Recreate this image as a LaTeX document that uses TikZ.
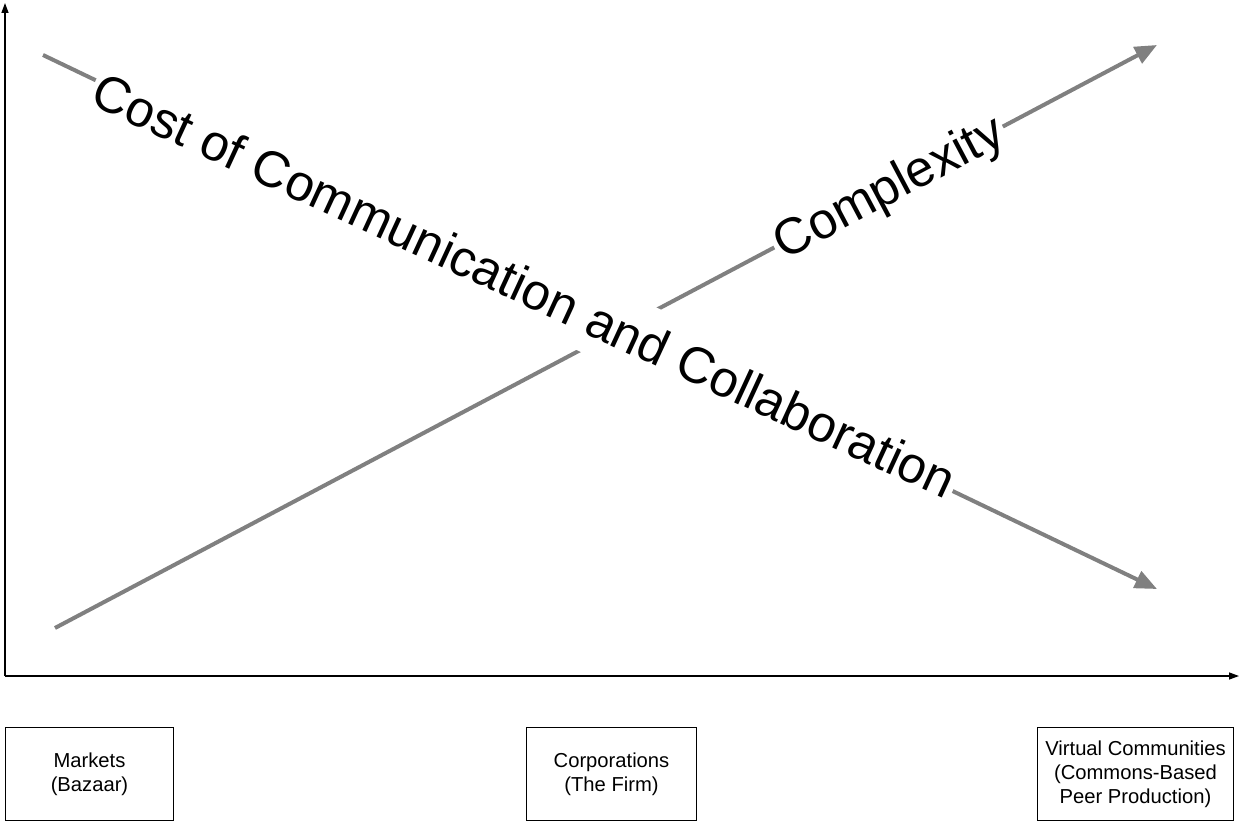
\documentclass[tikz,border=0pt]{standalone}
\usepackage{fontspec}
\setmainfont{Liberation Sans}
\usetikzlibrary{arrows.meta}
\definecolor{trendgray}{HTML}{808080}
\begin{document}
\begin{tikzpicture}[x=1pt,y=-1pt,
  axis/.style={line width=1.3pt, -{Triangle[length=10pt,width=7pt]}},
  trend/.style={draw=trendgray, line width=4pt, -{Triangle[length=22pt,width=18pt]}},
  lbl/.style={fill=white, font=\fontsize{51}{60}\selectfont, inner xsep=3pt, inner ysep=10.5pt,
    text height=43pt, text depth=8pt},
  catbox/.style={draw, line width=1pt, align=center, anchor=north west, inner sep=0pt,
    minimum height=93pt, font=\fontsize{20.2}{24}\selectfont}]
\useasboundingbox (0,0) rectangle (1241,821);
% axes
\coordinate (o) at (5,676);
\coordinate (ytop) at (5,3);
\coordinate (xend) at (1239,676);
\draw[axis] (o) -- (ytop);
\draw[axis] (o) -- (xend);
% trend lines
\coordinate (cx1) at (55,628);
\coordinate (cx2) at (1157,45);
\coordinate (cc1) at (43,55);
\coordinate (cc2) at (1157,589);
\draw[trend] (cx1) -- (cx2);
\draw[trend] (cc1) -- (cc2);
\node[lbl, rotate=-24.8] (cost) at (524,286) {Cost of Communication and Collaboration};
\node[lbl, rotate=27.9] (complexity) at (888,186) {Complexity};
% category boxes
\node[catbox, minimum width=168pt] (markets) at (5,727) {Markets\\(Bazaar)};
\node[catbox, minimum width=170pt] (corp) at (526,727) {Corporations\\(The Firm)};
\node[catbox, minimum width=196pt] (virtual) at (1037,727) {Virtual Communities\\(Commons-Based\\Peer Production)};
\end{tikzpicture}
\end{document}
